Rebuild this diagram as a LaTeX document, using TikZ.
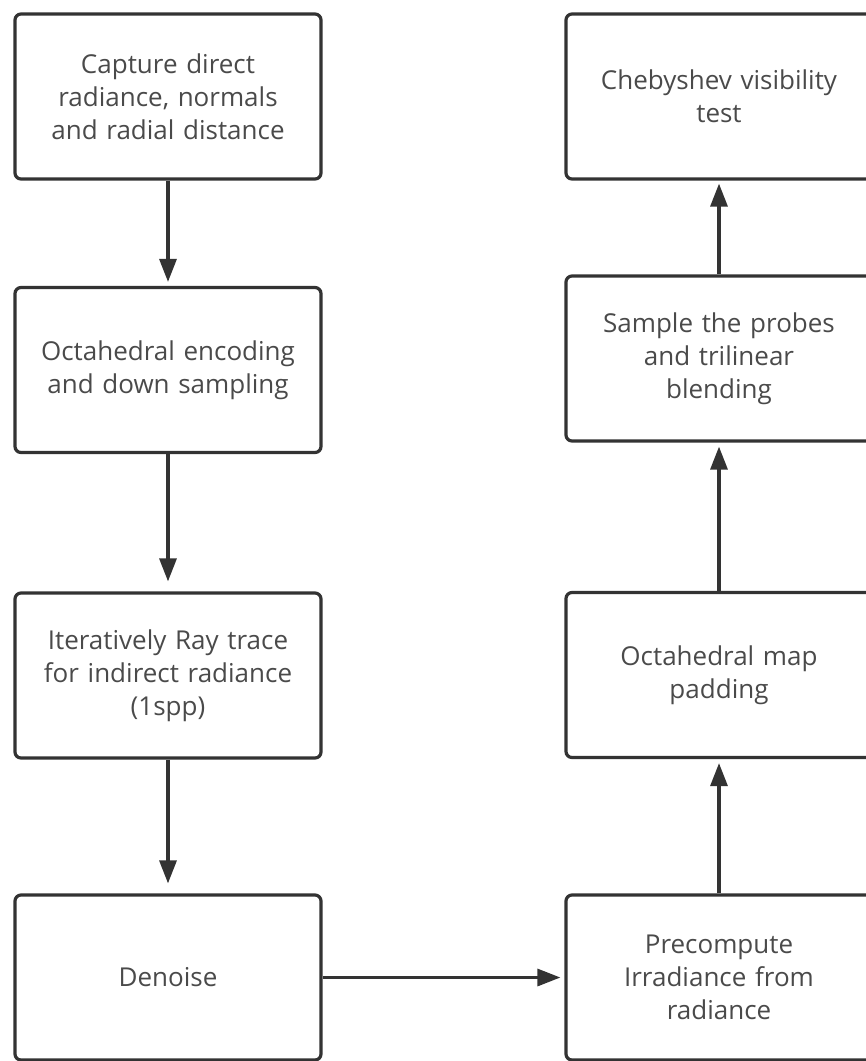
\documentclass[tikz,border=0pt]{standalone}
\usepackage{fontspec}
\setmainfont{Open Sans}
\usetikzlibrary{arrows.meta}
\definecolor{lineC}{HTML}{333333}
\definecolor{textC}{HTML}{4A4A4A}
\begin{document}
\begin{tikzpicture}[x=1pt,y=-1pt,
  stepbox/.style={draw=lineC, line width=3.2pt, rounded corners=6pt,
    minimum width=306pt, minimum height=165pt, inner sep=0pt,
    text width=300pt, align=center, text=textC,
    font=\fontsize{26}{33}\selectfont},
  flow/.style={draw=lineC, line width=3.2pt,
    -{Triangle[length=23pt,width=17pt]}}]
\useasboundingbox (0,0) rectangle (866,1061);
\clip (0,0) rectangle (866,1061);
\node[stepbox] (L1) at (168,96.5) {Capture direct\\radiance, normals\\and radial distance};
\node[stepbox] (L2) at (168,370) {Octahedral encoding\\and down sampling};
\node[stepbox] (L3) at (168,675.5) {Iteratively Ray trace\\for indirect radiance\\(1spp)};
\node[stepbox] (L4) at (168,977.5) {Denoise};
\node[stepbox] (R1) at (719,96.5) {Chebyshev visibility\\test};
\node[stepbox] (R2) at (719,358.5) {Sample the probes\\and trilinear\\blending};
\node[stepbox] (R3) at (719,675) {Octahedral map\\padding};
\node[stepbox] (R4) at (719,977.5) {Precompute\\Irradiance from\\radiance};
\draw[flow, shorten >=4pt] (L1) -- (L2);
\draw[flow, shorten >=10pt] (L2) -- (L3);
\draw[flow, shorten >=10pt] (L3) -- (L4);
\draw[flow, shorten >=4pt] (L4) -- (R4);
\draw[flow, shorten >=4pt] (R4) -- (R3);
\draw[flow, shorten >=4pt] (R3) -- (R2);
\draw[flow, shorten >=3pt] (R2) -- (R1);
\end{tikzpicture}
\end{document}
